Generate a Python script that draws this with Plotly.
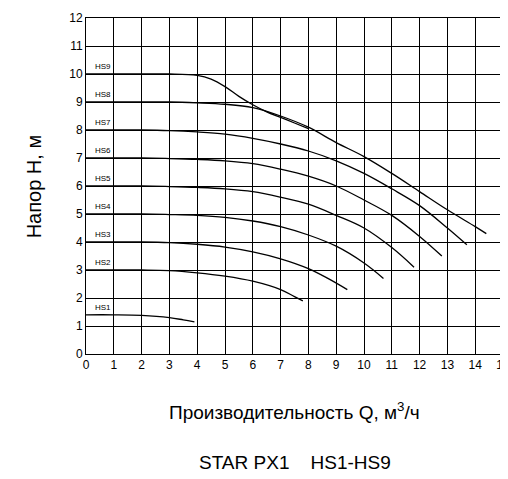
import plotly.graph_objects as go

hs1_q = [0, 1, 2, 3, 3.5, 3.9]
hs1_h = [1.4, 1.4, 1.38, 1.3, 1.22, 1.15]
hs2_q = [0, 2, 3, 4, 5, 6, 7, 7.5, 7.8]
hs2_h = [3.0, 3.0, 2.98, 2.9, 2.78, 2.6, 2.3, 2.05, 1.9]
hs3_q = [0, 2, 3, 4, 5, 6, 7, 8, 8.7, 9.4]
hs3_h = [4.0, 4.0, 3.98, 3.92, 3.82, 3.65, 3.4, 3.05, 2.7, 2.3]
hs4_q = [0, 2, 3, 4, 5, 6, 7, 8, 9, 10, 10.7]
hs4_h = [5.0, 5.0, 4.98, 4.95, 4.88, 4.75, 4.55, 4.25, 3.85, 3.25, 2.7]
hs5_q = [0, 2, 3, 4, 5, 6, 7, 8, 9, 10, 11, 11.8]
hs5_h = [6.0, 6.0, 5.98, 5.95, 5.9, 5.8, 5.6, 5.35, 4.95, 4.5, 3.8, 3.1]
hs6_q = [0, 2, 3, 4, 5, 6, 7, 8, 9, 10, 11, 12, 12.8]
hs6_h = [7.0, 7.0, 6.98, 6.95, 6.9, 6.8, 6.6, 6.35, 6.0, 5.5, 4.95, 4.2, 3.5]
hs7_q = [0, 2, 3, 4, 5, 6, 7, 8, 9, 10, 11, 12, 13, 13.7]
hs7_h = [8.0, 8.0, 7.98, 7.93, 7.85, 7.7, 7.5, 7.25, 6.9, 6.45, 5.9, 5.3, 4.5, 3.9]
hs8_q = [0, 2, 3, 4, 5, 6, 7, 8, 9, 10, 11, 12, 13, 14, 14.4]
hs8_h = [9.0, 9.0, 9.0, 8.97, 8.92, 8.8, 8.5, 8.1, 7.55, 7.05, 6.45, 5.8, 5.15, 4.55, 4.3]
hs9_q = [0, 2, 3, 4, 4.5, 5, 5.5, 6, 6.5, 7, 7.5, 8]
hs9_h = [10.0, 10.0, 10.0, 9.95, 9.82, 9.55, 9.2, 8.9, 8.65, 8.45, 8.25, 8.05]

curves = [
    ("HS1", hs1_q, hs1_h), ("HS2", hs2_q, hs2_h), ("HS3", hs3_q, hs3_h),
    ("HS4", hs4_q, hs4_h), ("HS5", hs5_q, hs5_h), ("HS6", hs6_q, hs6_h),
    ("HS7", hs7_q, hs7_h), ("HS8", hs8_q, hs8_h), ("HS9", hs9_q, hs9_h),
]

fig = go.Figure()
for name, q, h in curves:
    fig.add_trace(go.Scatter(x=q, y=h, mode="lines", line=dict(color="black", width=1.3, shape="spline"),
                             showlegend=False))
    fig.add_annotation(x=0.25, y=h[0], text=name, showarrow=False, xanchor="left", yanchor="bottom",
                       font=dict(size=8, color="black"), yshift=1)

axis_common = dict(showgrid=True, gridcolor="black", gridwidth=1, showline=True, linecolor="black",
                   mirror=True, dtick=1, zeroline=False, ticks="", automargin=False,
                   tickfont=dict(size=12, color="black"))
fig.update_xaxes(range=[0, 15], **axis_common)
fig.update_yaxes(range=[0, 12], **axis_common)

fig.add_annotation(xref="paper", yref="paper", x=0.5, y=-0.21, text="Производительность Q, м<sup>3</sup>/ч",
                   showarrow=False, font=dict(size=19, color="black"))
fig.add_annotation(xref="paper", yref="paper", x=0.5, y=-0.36, text="STAR PX1    HS1-HS9",
                   showarrow=False, font=dict(size=19, color="black"))
fig.add_annotation(xref="paper", yref="paper", x=-0.155, y=0.5, text="Напор H, м", textangle=-90,
                   showarrow=False, font=dict(size=20, color="black"))

fig.update_layout(width=508, height=479, margin=dict(l=78, r=13, t=10, b=133, autoexpand=False),
                  plot_bgcolor="white", paper_bgcolor="white",
                  font=dict(family="Liberation Sans, Arial, sans-serif"))
fig.write_html("out.html")
